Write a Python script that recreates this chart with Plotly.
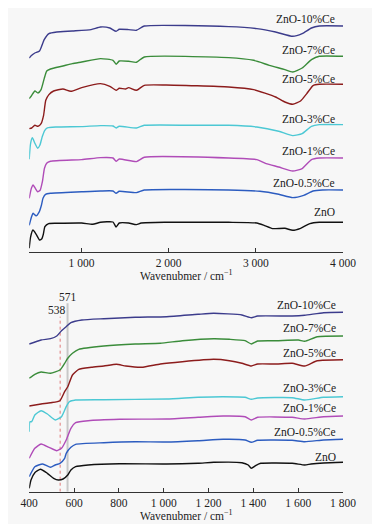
import plotly.graph_objects as go

# ---------------- data: top panel (full range) ----------------
names = ["ZnO", "ZnO-0.5%Ce", "ZnO-1%Ce", "ZnO-3%Ce", "ZnO-5%Ce", "ZnO-7%Ce", "ZnO-10%Ce"]
colors = ["#111111", "#2c5cc0", "#b04cb8", "#4cc8d4", "#8c1c1c", "#3a8c3a", "#3c3c8c"]

top_w_zno = [400, 415, 443, 480, 519, 545, 562, 580, 623, 716, 1002, 1128, 1218, 1361, 1397, 1433, 1540, 1630, 1684, 1971, 2688, 3011, 3100, 3190, 3333, 3423, 3513, 3620, 3728, 4000]
top_v_zno = [4.0, 15.0, 22.3, 18.0, 12.3, 13.5, 18.0, 25.6, 28.7, 29.0, 29.3, 28.0, 30.0, 30.3, 25.3, 29.3, 29.3, 27.7, 29.3, 30.0, 30.0, 29.3, 26.7, 23.7, 24.0, 22.0, 24.0, 28.7, 30.0, 30.0]

top_w_05 = [400, 425, 443, 479, 515, 540, 558, 587, 644, 1002, 1218, 1361, 1397, 1433, 1630, 1720, 2688, 3047, 3262, 3423, 3549, 3656, 3764, 4000]
top_v_05 = [27.0, 35.0, 39.0, 36.5, 40.5, 47.0, 54.0, 58.0, 59.0, 60.5, 61.3, 61.3, 59.0, 61.0, 59.7, 62.3, 62.3, 61.0, 58.0, 54.7, 57.0, 61.3, 62.3, 62.3]

top_w_1 = [400, 425, 445, 470, 497, 525, 551, 575, 600, 644, 1002, 1218, 1361, 1397, 1433, 1630, 1720, 2688, 3011, 3118, 3262, 3423, 3531, 3638, 3728, 4000]
top_v_1 = [54.0, 64.0, 67.3, 64.0, 60.6, 62.0, 70.6, 84.0, 89.0, 91.0, 92.7, 94.7, 94.3, 91.0, 93.3, 90.7, 95.0, 94.3, 92.7, 88.7, 85.3, 81.3, 83.7, 92.7, 94.3, 94.3]

top_w_3 = [400, 414, 436, 465, 497, 522, 551, 579, 608, 716, 1002, 1218, 1361, 1397, 1433, 1630, 1720, 2365, 2688, 3011, 3262, 3423, 3531, 3638, 3728, 4000]
top_v_3 = [93.0, 108.0, 114.5, 109.0, 104.0, 107.0, 116.0, 122.0, 124.5, 125.3, 125.7, 126.7, 126.3, 124.3, 126.0, 124.3, 127.0, 127.0, 127.0, 125.3, 121.0, 116.7, 118.7, 126.0, 127.7, 127.7]

top_w_5 = [400, 429, 465, 500, 536, 565, 590, 626, 680, 787, 877, 1002, 1218, 1325, 1397, 1433, 1504, 1540, 1630, 1720, 1971, 2688, 2975, 3226, 3333, 3423, 3513, 3584, 3656, 3728, 4000]
top_v_5 = [123.7, 124.3, 127.0, 126.0, 128.7, 137.0, 152.0, 157.7, 161.3, 163.3, 161.0, 164.7, 168.7, 166.0, 162.0, 164.0, 163.3, 164.7, 162.0, 167.0, 167.3, 165.3, 162.7, 155.3, 150.3, 148.0, 151.3, 158.7, 166.7, 168.0, 168.0]

top_w_7 = [400, 429, 465, 500, 536, 572, 601, 644, 787, 895, 1002, 1218, 1361, 1397, 1433, 1540, 1630, 1720, 2688, 2975, 3154, 3333, 3423, 3531, 3638, 3728, 4000]
top_v_7 = [153.7, 157.0, 161.3, 159.3, 162.7, 173.7, 181.3, 183.3, 186.3, 188.7, 190.3, 193.7, 192.0, 188.0, 191.3, 191.0, 190.0, 195.3, 194.7, 192.0, 187.0, 182.7, 180.3, 184.3, 192.7, 196.0, 196.0]

top_w_10 = [400, 429, 465, 518, 572, 626, 716, 895, 1110, 1218, 1325, 1397, 1433, 1540, 1630, 1720, 2688, 3011, 3226, 3423, 3531, 3638, 3728, 4000]
top_v_10 = [194.3, 197.0, 199.3, 201.3, 212.7, 218.7, 220.3, 221.3, 222.7, 225.3, 224.3, 221.0, 223.0, 222.7, 222.0, 226.3, 225.7, 223.7, 220.3, 216.0, 218.7, 224.3, 226.3, 226.3]

top_label_y = [40.3, 69.3, 101.3, 133.7, 173.3, 202.7, 233.7]

# ---------------- data: bottom panel (400-1800) ----------------
bot_w_zno = [400, 408, 425, 450, 481, 509, 530, 551, 572, 586, 607, 663, 803, 1013, 1153, 1223, 1349, 1377, 1391, 1412, 1433, 1573, 1629, 1657, 1713, 1800]
bot_v_zno = [3.4, 11.7, 19.0, 22.4, 18.4, 13.4, 11.7, 12.7, 16.7, 21.7, 25.0, 26.7, 28.0, 27.7, 28.4, 29.4, 29.0, 26.7, 23.4, 26.4, 28.4, 28.4, 26.7, 27.7, 28.7, 29.4]

bot_w_05 = [400, 425, 460, 495, 516, 537, 558, 565, 586, 607, 733, 873, 1013, 1153, 1265, 1363, 1391, 1419, 1573, 1629, 1713, 1800]
bot_v_05 = [15.0, 25.0, 27.7, 24.4, 26.7, 28.4, 33.4, 38.4, 44.4, 47.4, 49.0, 50.0, 49.7, 51.0, 52.4, 51.7, 49.4, 51.4, 51.4, 50.0, 51.7, 52.4]

bot_w_1 = [400, 425, 453, 488, 523, 544, 565, 586, 607, 663, 803, 1013, 1153, 1265, 1363, 1391, 1419, 1573, 1629, 1713, 1800]
bot_v_1 = [33.4, 43.4, 47.7, 44.4, 41.0, 43.4, 51.7, 63.4, 69.0, 71.0, 72.4, 72.7, 74.4, 75.7, 75.0, 71.7, 74.4, 74.4, 72.7, 75.0, 75.7]

bot_w_3 = [400, 403, 411, 425, 453, 481, 516, 544, 565, 579, 607, 733, 1013, 1153, 1265, 1363, 1391, 1419, 1573, 1629, 1713, 1800]
bot_v_3 = [60.0, 70.0, 70.0, 76.7, 81.0, 77.7, 71.7, 75.0, 85.0, 90.0, 91.7, 92.0, 92.7, 94.4, 95.0, 94.4, 92.4, 93.7, 94.0, 91.7, 94.4, 95.0]

bot_w_5 = [400, 453, 495, 537, 558, 572, 593, 621, 677, 733, 789, 831, 901, 985, 1083, 1223, 1293, 1349, 1391, 1419, 1503, 1573, 1629, 1685, 1800]
bot_v_5 = [85.7, 87.7, 89.0, 91.0, 100.0, 105.0, 116.7, 122.4, 124.4, 125.7, 127.4, 125.7, 124.4, 127.7, 130.0, 132.4, 131.0, 128.4, 125.7, 127.7, 127.7, 128.4, 125.7, 131.0, 132.0]

bot_w_7 = [400, 425, 453, 495, 537, 558, 572, 593, 621, 733, 873, 985, 1083, 1223, 1293, 1363, 1391, 1419, 1503, 1601, 1629, 1685, 1800]
bot_v_7 = [113.4, 117.4, 119.7, 118.4, 121.7, 128.4, 133.4, 138.4, 142.4, 145.7, 147.7, 148.4, 151.0, 153.0, 152.4, 151.0, 147.7, 150.7, 151.0, 151.7, 150.4, 155.0, 155.7]

bot_w_10 = [400, 453, 495, 523, 544, 565, 586, 635, 733, 873, 1013, 1153, 1223, 1349, 1391, 1419, 1573, 1629, 1713, 1800]
bot_v_10 = [147.7, 151.7, 153.0, 155.7, 161.0, 165.0, 169.0, 171.7, 173.0, 174.4, 175.0, 177.4, 178.4, 176.7, 174.0, 175.7, 175.7, 176.4, 179.0, 179.4]

bot_label_y = [35.0, 60.0, 83.4, 103.4, 139.0, 163.4, 186.7]

marker_waves = [538, 571]
marker_tops = [175, 188.4]

top_ticks = [1000, 2000, 3000, 4000]
top_ticktext = ["1 000", "2 000", "3 000", "4 000"]
bot_ticks = [400, 600, 800, 1000, 1200, 1400, 1600, 1800]
bot_ticktext = ["400", "600", "800", "1 000", "1 200", "1 400", "1 600", "1 800"]

top_series = [(top_w_zno, top_v_zno), (top_w_05, top_v_05), (top_w_1, top_v_1), (top_w_3, top_v_3),
              (top_w_5, top_v_5), (top_w_7, top_v_7), (top_w_10, top_v_10)]
bot_series = [(bot_w_zno, bot_v_zno), (bot_w_05, bot_v_05), (bot_w_1, bot_v_1), (bot_w_3, bot_v_3),
              (bot_w_5, bot_v_5), (bot_w_7, bot_v_7), (bot_w_10, bot_v_10)]

FONT = "Liberation Serif"
W, H = 364, 516      # figure sits 8 px inside the page (default body margin)
OFF = 8

fig = go.Figure()

fig.add_trace(go.Scatter(x=[marker_waves[1], marker_waves[1]], y=[0, marker_tops[1]], mode="lines",
                         line=dict(color="#c8c8c8", width=2), xaxis="x2", yaxis="y2", showlegend=False, hoverinfo="skip"))
fig.add_trace(go.Scatter(x=[marker_waves[0], marker_waves[0]], y=[0, marker_tops[0]], mode="lines",
                         line=dict(color="#e07878", width=1, dash="dot"), xaxis="x2", yaxis="y2", showlegend=False, hoverinfo="skip"))

for (w, v), c, n in zip(top_series, colors, names):
    fig.add_trace(go.Scatter(x=w, y=v, mode="lines", name=n, line=dict(color=c, width=1.4, shape="spline", smoothing=0.5),
                             xaxis="x", yaxis="y", showlegend=False))
for (w, v), c, n in zip(bot_series, colors, names):
    fig.add_trace(go.Scatter(x=w, y=v, mode="lines", name=n, line=dict(color=c, width=1.4, shape="spline", smoothing=0.5),
                             xaxis="x2", yaxis="y2", showlegend=False))

tfont = dict(family=FONT, size=11.5, color="#222")
ann = []
for n, yv in zip(names, top_label_y):
    ann.append(dict(x=3935, y=yv, xref="x", yref="y", text=n, showarrow=False, xanchor="right", yanchor="middle", font=tfont))
for n, yv in zip(names, bot_label_y):
    ann.append(dict(x=1776, y=yv, xref="x2", yref="y2", text=n, showarrow=False, xanchor="right", yanchor="middle", font=tfont))
ann.append(dict(x=525, y=181.7, xref="x2", yref="y2", text="538", showarrow=False, xanchor="center", yanchor="middle", font=tfont))
ann.append(dict(x=572, y=195, xref="x2", yref="y2", text="571", showarrow=False, xanchor="center", yanchor="middle", font=tfont))
for yp in [275, 515]:
    ann.append(dict(x=(188 - OFF) / W, y=1 - (yp - OFF) / H, xref="paper", yref="paper",
                    text="Wavenubmer / cm<sup>−1</sup>", showarrow=False,
                    xanchor="center", yanchor="middle", font=tfont))

xdom = [(21 - OFF) / W, (355 - OFF) / W]
axis_common = dict(showline=True, linecolor="#333", linewidth=1, ticks="inside", ticklen=4, tickcolor="#333",
                   showgrid=False, zeroline=False, tickfont=tfont)
top_axis = 252.3 - OFF
bot_axis = 491.7 - OFF
bot_top = 285 - OFF
fig.update_layout(
    width=W, height=H, margin=dict(l=0, r=0, t=0, b=0),
    paper_bgcolor="#f7f7f7", plot_bgcolor="rgba(0,0,0,0)",
    xaxis=dict(domain=xdom, range=[400, 4000], anchor="y", tickvals=top_ticks, ticktext=top_ticktext, **axis_common),
    yaxis=dict(domain=[1 - top_axis / H, 1], range=[0, top_axis], visible=False, anchor="x"),
    xaxis2=dict(domain=xdom, range=[400, 1800], anchor="y2", tickvals=bot_ticks, ticktext=bot_ticktext, **axis_common),
    yaxis2=dict(domain=[1 - bot_axis / H, 1 - bot_top / H], range=[0, bot_axis - bot_top], visible=False, anchor="x2"),
    annotations=ann,
)
fig.write_html("out.html")
